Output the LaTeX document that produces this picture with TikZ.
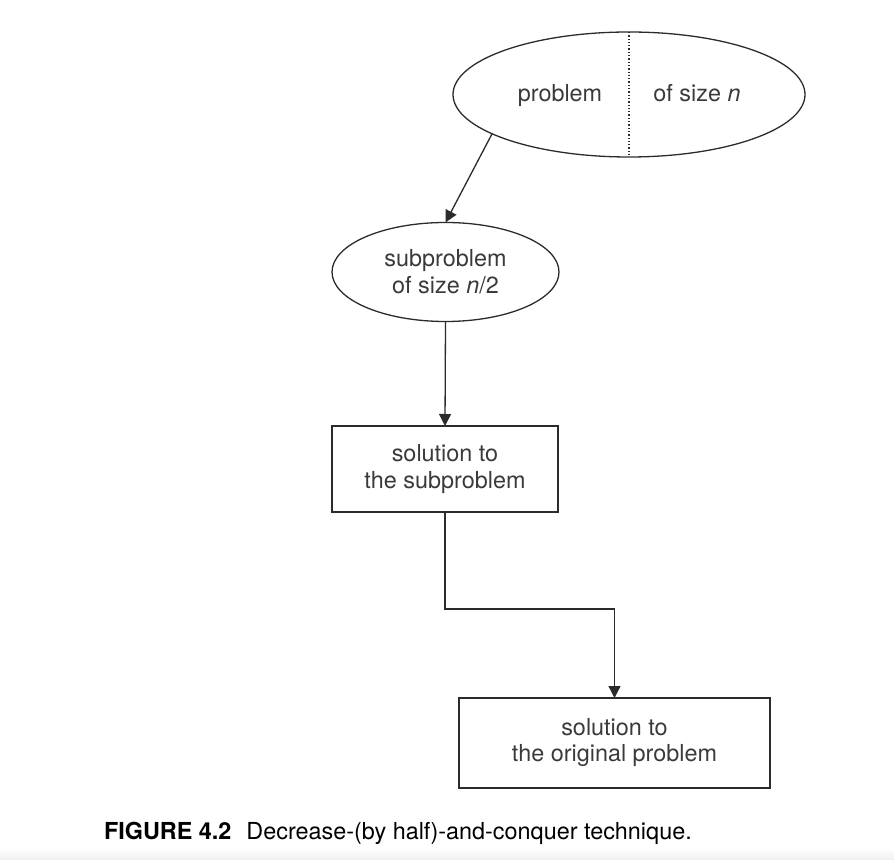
\documentclass[tikz,border=0pt]{standalone}
\usepackage{fontspec}
\setmainfont{TeX Gyre Heros}
\usetikzlibrary{shapes.geometric,arrows.meta}

\definecolor{inkline}{HTML}{2B2B2B}
\definecolor{inktext}{HTML}{3A3A3A}

\tikzset{
  every node/.style={inner sep=0pt, outer sep=0pt, text=inktext,
    font=\fontsize{11.7}{13.4}\selectfont},
  blob/.style={draw=inkline, line width=0.65pt, ellipse, align=center},
  box/.style={draw=inkline, line width=0.65pt, rectangle, align=center},
  arr/.style={draw=inkline, line width=0.65pt,
    -{Triangle[length=6pt,width=6pt]}},
}

\begin{document}
\begin{tikzpicture}[x=0.5pt,y=-0.5pt]
  \useasboundingbox (0,0) rectangle (894,860);
  \shade[top color=white, bottom color=black!6] (0,848) rectangle (894,860);

  % problem, split in two halves
  \node[blob, minimum width=176pt, minimum height=62.5pt] (big) at (629,94.5) {};
  \draw[inkline, line width=0.65pt, densely dotted] (big.north) -- (big.south);
  \node[anchor=base] (lhalf) at (560,102) {problem};
  \node[anchor=base] (rhalf) at (697,102) {of size \textit{n}};

  \node[blob, minimum width=113.5pt, minimum height=49.5pt] (small) at (445.5,272)
    {subproblem\\of size \textit{n}/2};
  \node[box, minimum width=113pt, minimum height=43pt] (sol) at (445,469)
    {solution to\\the subproblem};
  \node[box, minimum width=155.5pt, minimum height=45pt] (final) at (614.5,743)
    {solution to\\the original problem\vphantom{$|$}};
  \coordinate (bend) at (530,609);

  \draw[arr] (big.196) -- (small.north);
  \draw[arr] (small.south) -- (sol.north);
  \draw[arr] (sol.south) |- (bend) -| (final.north);

  \node[anchor=base west, text=black] (cap) at (104,839)
    {\textbf{FIGURE 4.2}\hspace{7.5pt}Decrease-(by half)-and-conquer technique.};
\end{tikzpicture}
\end{document}
